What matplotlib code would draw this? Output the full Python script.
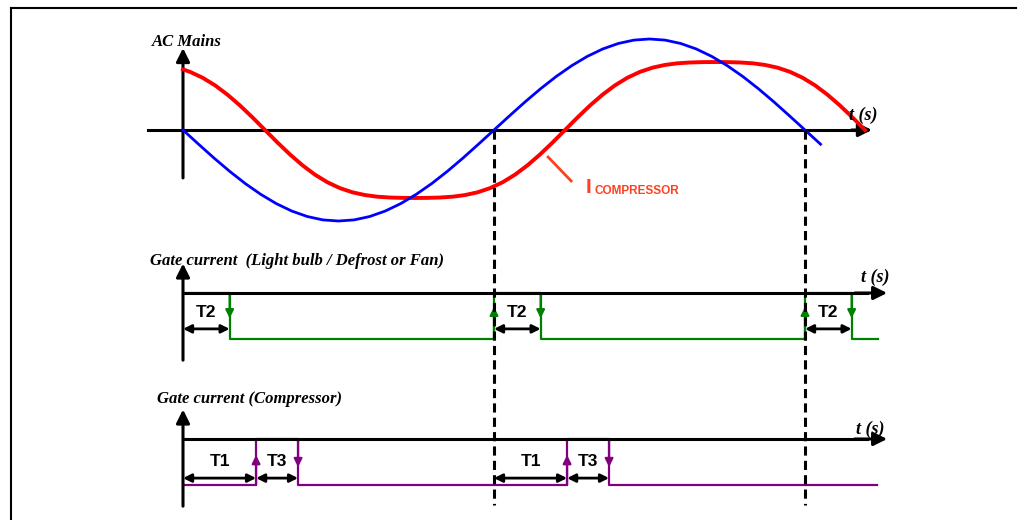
import matplotlib
matplotlib.use("Agg")
import matplotlib.pyplot as plt
import matplotlib.transforms as mtransforms
from matplotlib.lines import Line2D

# time axis in ms (50 Hz mains, half cycle = 10 ms)
# mains voltage, normalised to its peak
mains_t = [0.0, 0.5, 1.0, 1.5, 2.0, 2.5, 3.0, 3.5, 4.0, 4.5, 5.0, 5.5, 6.0, 6.5,
           7.0, 7.5, 8.0, 8.5, 9.0, 9.5, 10.0, 10.5, 11.0, 11.5, 12.0, 12.5, 13.0,
           13.5, 14.0, 14.5, 15.0, 15.5, 16.0, 16.5, 17.0, 17.5, 18.0, 18.5, 19.0,
           19.5, 20.0, 20.5]
mains_v = [0.0, -0.156, -0.309, -0.454, -0.588, -0.707, -0.809, -0.891, -0.951,
           -0.988, -1.0, -0.988, -0.951, -0.891, -0.809, -0.707, -0.588, -0.454,
           -0.309, -0.156, 0.0, 0.156, 0.309, 0.454, 0.588, 0.707, 0.809, 0.891,
           0.951, 0.988, 1.0, 0.988, 0.951, 0.891, 0.809, 0.707, 0.588, 0.454,
           0.309, 0.156, 0.0, -0.156]

# compressor current (lagging, flattened tops)
comp_t = [0.0, 0.225, 0.627, 1.029, 1.431, 1.833, 2.235, 2.637, 3.039, 3.441,
          3.842, 4.244, 4.646, 5.048, 5.450, 5.852, 6.254, 6.656, 7.058, 7.460,
          7.862, 8.264, 8.666, 9.068, 9.469, 9.871, 10.273, 10.675, 11.077,
          11.479, 11.881, 12.283, 12.685, 13.087, 13.489, 13.891, 14.293, 14.695,
          15.096, 15.498, 15.900, 16.302, 16.704, 17.106, 17.508, 17.910, 18.312,
          18.714, 19.116, 19.518, 19.920, 20.322, 20.723, 21.125, 21.527, 21.929]
comp_i = [0.666, 0.639, 0.575, 0.491, 0.388, 0.269, 0.138, 0.0, -0.138, -0.269,
          -0.388, -0.491, -0.575, -0.639, -0.685, -0.715, -0.733, -0.742, -0.746,
          -0.747, -0.746, -0.742, -0.733, -0.715, -0.685, -0.639, -0.575, -0.491,
          -0.388, -0.269, -0.138, 0.0, 0.138, 0.269, 0.388, 0.491, 0.575, 0.639,
          0.685, 0.715, 0.733, 0.742, 0.746, 0.747, 0.746, 0.742, 0.733, 0.715,
          0.685, 0.639, 0.575, 0.491, 0.388, 0.269, 0.138, 0.0]

zero_cross = [0.0, 10.0, 20.0]
T1, T2, T3 = 2.35, 1.5, 1.35

# gate signals (0 = pulse level on the axis, -1 = low level)
lamp_t = [0.0, 1.5, 1.5, 10.0, 10.0, 11.5, 11.5, 20.0, 20.0, 21.5, 21.5, 22.35]
lamp_g = [0, 0, -1, -1, 0, 0, -1, -1, 0, 0, -1, -1]
lamp_up = [10.0, 20.0]
lamp_down = [1.5, 11.5, 21.5]

cgate_t = [0.0, 2.35, 2.35, 3.7, 3.7, 12.35, 12.35, 13.7, 13.7, 22.3]
cgate_g = [-1, -1, 0, 0, -1, -1, 0, 0, -1, -1]
cgate_up = [2.35, 12.35]
cgate_down = [3.7, 13.7]

W, H = 1018, 520
PX = 31.1  # pixels per ms
X0 = 183   # pixel of t = 0

fig = plt.figure(figsize=(W / 100, H / 100), dpi=100)


def panel(top, bot, zero, unit):
    ax = fig.add_axes([0, 1 - bot / H, 1, (bot - top) / H])
    ax.set_xlim(-X0 / PX, (W - X0) / PX)
    ax.set_ylim((zero - bot) / unit, (zero - top) / unit)
    ax.axis('off')
    return ax


def arrow(ax, start, end, style='-|>', ms=20, lw=2.2, color='k', z=3):
    ax.annotate('', xy=end, xytext=start,
                arrowprops=dict(arrowstyle=style, color=color, lw=lw,
                                mutation_scale=ms, shrinkA=0, shrinkB=0),
                zorder=z)


serif = dict(family='Liberation Serif', weight='bold', style='italic')
sans = dict(family='Liberation Sans', weight='bold')
orange = '#ff4020'

ax1 = panel(20, 240, 130, 91)
ax2 = panel(245, 375, 293, 46)
ax3 = panel(390, 520, 439, 46)

# --- AC mains panel
ax1.plot([-1.125, 22.0], [0, 0], color='k', lw=2.2, zorder=2)
arrow(ax1, (21.5, 0), (22.15, 0), z=2)
arrow(ax1, (0, -0.527), (0, 0.90), z=2)
ax1.plot(mains_t, mains_v, color='#0000ff', lw=2.0, zorder=4)
ax1.plot(comp_t, comp_i, color='#ff0000', lw=2.8, zorder=3)
ax1.text(-1.0, 0.967, 'AC Mains', fontsize=12, va='center', ha='left', **serif)
ax1.text(21.4, 0.165, 't (s)', fontsize=13, va='center', ha='left', **serif)
ax1.plot([11.74, 12.48], [-0.297, -0.56], color=orange, lw=2.0)
ax1.text(12.96, -0.69, 'I', fontsize=15, color=orange, va='baseline', **sans)
ax1.text(13.24, -0.70, 'COMPRESSOR', fontsize=8.5, color=orange,
         va='baseline', **sans)

# --- gate panels
for ax, tt, gg, ups, downs, up_at, down_at, label, lab_x, lab_y, ts_x, ts_y in [
        (ax2, lamp_t, lamp_g, lamp_up, lamp_down, -0.3, -0.55,
         'Gate current  (Light bulb / Defrost or Fan)', -1.06, 0.70, 21.8, 0.35),
        (ax3, cgate_t, cgate_g, cgate_up, cgate_down, -0.35, -0.61,
         'Gate current (Compressor)', -0.84, 0.87, 21.65, 0.22)]:
    col = '#008000' if ax is ax2 else '#800080'
    ax.plot(tt, gg, color=col, lw=1.6, zorder=2)
    for u in ups:
        arrow(ax, (u, -1), (u, up_at), ms=12, lw=1.6, color=col, z=2)
    for d in downs:
        arrow(ax, (d, 0), (d, down_at), ms=12, lw=1.6, color=col, z=2)
    ax.plot([0, 22.0], [0, 0], color='k', lw=2.2, zorder=3)
    arrow(ax, (21.6, 0), (22.64, 0))
    arrow(ax, (0, -1.46), (0, 0.64))
    ax.text(lab_x, lab_y, label, fontsize=12, va='center', ha='left', **serif)
    ax.text(ts_x, ts_y, 't (s)', fontsize=13, va='center', ha='left', **serif)

for zc in zero_cross:
    arrow(ax2, (zc, -0.78), (zc + T2, -0.78), style='<|-|>', ms=12, lw=2.0)
    ax2.text(zc + T2 / 2, -0.43, 'T2', fontsize=12.5, ha='center', va='center', **sans)

for zc in zero_cross[:2]:
    arrow(ax3, (zc, -0.85), (zc + T1, -0.85), style='<|-|>', ms=12, lw=2.0)
    arrow(ax3, (zc + T1, -0.85), (zc + T1 + T3, -0.85), style='<|-|>', ms=12, lw=2.0)
    ax3.text(zc + T1 / 2, -0.5, 'T1', fontsize=12.5, ha='center', va='center', **sans)
    ax3.text(zc + T1 + T3 / 2, -0.5, 'T3', fontsize=12.5, ha='center', va='center', **sans)

# dashed markers at the voltage zero crossings, spanning all panels
trans = mtransforms.blended_transform_factory(ax3.transData, fig.transFigure)
for zc in zero_cross[1:]:
    ax3.plot([zc, zc], [1 - 130 / H, 1 - 505 / H], transform=trans, clip_on=False,
             color='k', lw=2.2, ls=(0, (3, 1.7)), zorder=5)

# page frame
fig.add_artist(Line2D([11 / W, 1016 / W], [1 - 8 / H, 1 - 8 / H],
                      transform=fig.transFigure, color='k', lw=1.5))
fig.add_artist(Line2D([11 / W, 11 / W], [1 - 8 / H, 0],
                      transform=fig.transFigure, color='k', lw=1.5))

fig.savefig('out.png', dpi=100)
